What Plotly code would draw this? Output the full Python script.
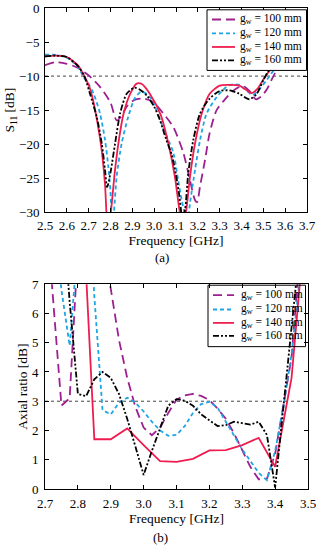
import plotly.graph_objects as go

# ---------------- DATA ----------------
LEGEND_LABELS = ["g<sub>w</sub> = 100 mm", "g<sub>w</sub> = 120 mm",
                 "g<sub>w</sub> = 140 mm", "g<sub>w</sub> = 160 mm"]

# (a) S11 [dB]
s11_f100 = [2.5, 2.55, 2.6, 2.645, 2.7, 2.75, 2.8, 2.828, 2.85, 2.874, 2.91, 2.95, 2.995, 3.042,
            3.088, 3.134, 3.164, 3.187, 3.197, 3.21, 3.233, 3.254, 3.286, 3.33, 3.36, 3.39, 3.41,
            3.44, 3.465, 3.49, 3.515, 3.553, 3.6, 3.65, 3.7]
s11_v100 = [-8.4, -7.95, -8.2, -8.7, -9.9, -11.5, -13.9, -16.5, -15.9, -14.5, -13.5, -13.3, -13.8,
            -15.5, -17.5, -21.3, -25.3, -28.2, -28.5, -26.2, -22.3, -18.4, -15.0, -13.2, -12.2,
            -11.6, -11.5, -12.3, -13.4, -13.0, -12.0, -9.6, -7.5, -6.5, -5.7]

s11_f120 = [2.5, 2.55, 2.6, 2.65, 2.676, 2.7, 2.723, 2.752, 2.775, 2.79, 2.8, 2.808, 2.816, 2.828,
            2.851, 2.881, 2.912, 2.94, 2.965, 2.99, 3.04, 3.088, 3.11, 3.126, 3.14, 3.152, 3.164,
            3.187, 3.21, 3.24, 3.286, 3.33, 3.36, 3.39, 3.42, 3.45, 3.48, 3.515, 3.553, 3.6, 3.65, 3.7]
s11_v120 = [-6.85, -6.9, -7.3, -8.6, -10.1, -11.2, -12.6, -15.5, -19.4, -23.3, -27.0, -33.0, -30.0,
            -24.8, -19.9, -16.0, -13.2, -12.3, -12.6, -13.5, -17.5, -21.3, -25.3, -28.2, -30.2,
            -32.0, -28.7, -23.8, -19.4, -15.5, -13.1, -11.6, -11.2, -11.3, -12.0, -12.8, -12.0,
            -10.6, -8.9, -7.2, -6.3, -5.5]

s11_f140 = [2.5, 2.55, 2.6, 2.65, 2.68, 2.7, 2.72, 2.74, 2.76, 2.775, 2.788, 2.8, 2.82, 2.836,
            2.86, 2.89, 2.92, 2.945, 2.98, 3.03, 3.065, 3.095, 3.115, 3.13, 3.146, 3.164, 3.187,
            3.218, 3.254, 3.3, 3.35, 3.39, 3.42, 3.447, 3.475, 3.5, 3.53, 3.56, 3.62, 3.7]
s11_v140 = [-7.1, -7.0, -7.2, -8.4, -10.0, -11.3, -13.5, -16.8, -21.0, -26.0, -33.0, -30.5, -24.0,
            -19.9, -15.5, -12.6, -11.1, -11.2, -12.6, -15.7, -19.9, -24.8, -29.5, -32.0, -29.9,
            -24.8, -19.9, -15.5, -12.6, -11.4, -11.3, -11.4, -12.0, -12.5, -11.8, -10.5, -9.15,
            -8.2, -6.8, -5.5]

s11_f160 = [2.5, 2.55, 2.6, 2.65, 2.68, 2.706, 2.737, 2.76, 2.775, 2.784, 2.79, 2.802, 2.821, 2.844,
            2.874, 2.91, 2.94, 2.97, 3.0, 3.027, 3.055, 3.08, 3.1, 3.115, 3.13, 3.142, 3.156, 3.179,
            3.21, 3.254, 3.3, 3.346, 3.39, 3.436, 3.47, 3.5, 3.53, 3.6, 3.7]
s11_v160 = [-7.1, -7.0, -7.2, -8.5, -10.0, -12.6, -16.0, -19.9, -23.8, -26.3, -25.8, -23.8, -19.9,
            -15.5, -12.6, -11.7, -12.1, -13.0, -14.5, -16.5, -19.3, -21.5, -24.5, -27.5, -31.0,
            -29.5, -24.3, -19.4, -15.5, -13.3, -12.2, -12.1, -12.6, -13.4, -12.6, -10.6, -8.9,
            -6.8, -5.5]

# (b) Axial ratio [dB]
ar_f = [2.7, 2.725, 2.75, 2.775, 2.8, 2.825, 2.85, 2.875, 2.9, 2.925, 2.95, 2.975, 3.0, 3.025,
        3.05, 3.075, 3.1, 3.125, 3.15, 3.175, 3.2, 3.225, 3.25, 3.275, 3.3, 3.325, 3.35, 3.375,
        3.4, 3.425, 3.45, 3.475, 3.5]
ar_v100 = [10, 6.3, 2.85, 3.1, 8.2, 11, 10, 8.4, 6.85, 5.1, 3.8, 2.8, 2.1, 1.84, 2.1, 2.6, 3.05,
           3.2, 3.25, 3.18, 3.04, 2.75, 2.4, 1.9, 1.35, 0.75, 0.33, 0.35, 1.2, 2.9, 4.5, 8.0, 11]
ar_v120 = [12, 9.5, 6.8, 4.9, 9.0, 12, 6.6, 2.7, 2.55, 2.95, 3.12, 2.95, 2.65, 2.3, 2.0, 1.82,
           1.85, 2.15, 2.6, 2.9, 2.98, 2.78, 2.3, 1.8, 1.35, 0.95, 0.55, 0.3, 1.3, 2.8, 4.6, 7.2, 10]
ar_v160 = [16, 13, 10.2, 6.4, 3.25, 3.17, 3.75, 4.0, 3.8, 3.25, 2.4, 1.45, 0.48, 1.3, 2.1, 2.85,
           3.07, 3.02, 2.85, 2.55, 2.35, 2.15, 2.18, 2.3, 2.25, 2.2, 2.3, 1.85, 0.05, 2.75, 5.4,
           8.2, 11]
ar_f140 = [2.7, 2.75, 2.8, 2.85, 2.9, 2.95, 3.0, 3.05, 3.1, 3.15, 3.2, 3.25, 3.3, 3.35, 3.4,
           3.45, 3.5]
ar_v140 = [20, 16, 13, 1.7, 1.7, 2.07, 1.5, 0.95, 0.93, 1.03, 1.32, 1.33, 1.5, 1.75, 0.76, 3.8,
           10.2]

S11_TICKS = [0, -5, -10, -15, -20, -25, -30]
AR_TICKS = [0, 1, 2, 3, 4, 5, 6, 7]

# ---------------- STYLE ----------------
COLORS = ["#9E1F90", "#1EA6E4", "#EF1D4F", "#000000"]
DASHES = ["9px,5px", "4px,3px", "solid", "6px,2px,2px,2px,2px,2px"]
LW = 1.8
FONT = "Liberation Serif"

W, H = 323, 550
ML, MR, MT, MB = 45, 15, 7.5, 61


def px(xp):
    return (xp - ML) / (W - ML - MR)


def py(yp):
    return (H - MB - yp) / (H - MT - MB)


fig = go.Figure()

top_sets = [(s11_f100, s11_v100), (s11_f120, s11_v120), (s11_f140, s11_v140), (s11_f160, s11_v160)]
for i, (f, v) in enumerate(top_sets):
    fig.add_trace(go.Scatter(x=f, y=v, mode="lines", name=LEGEND_LABELS[i], showlegend=False,
                             line=dict(color=COLORS[i], width=LW, dash=DASHES[i],
                                       shape="spline", smoothing=0.7),
                             xaxis="x", yaxis="y"))

bot_sets = [(ar_f, ar_v100), (ar_f, ar_v120), (ar_f140, ar_v140), (ar_f, ar_v160)]
for i, (f, v) in enumerate(bot_sets):
    fig.add_trace(go.Scatter(x=f, y=v, mode="lines", name=LEGEND_LABELS[i], showlegend=False,
                             line=dict(color=COLORS[i], width=LW, dash=DASHES[i]),
                             xaxis="x2", yaxis="y2"))

axis_common = dict(showline=True, linecolor="black", linewidth=1, mirror="ticks",
                   ticks="inside", ticklen=4, tickcolor="black", showgrid=False,
                   zeroline=False, automargin=False,
                   tickfont=dict(family=FONT, size=13, color="black"))

fig.update_layout(
    width=W, height=H, margin=dict(l=ML, r=MR, t=MT, b=MB, autoexpand=False),
    paper_bgcolor="white", plot_bgcolor="white", showlegend=False,
    font=dict(family=FONT, color="black"),
    xaxis=dict(domain=[0, px(307)], anchor="y", range=[2.5, 3.7], tick0=2.5, dtick=0.1,
               tickformat=".1f", ticklabelstandoff=1,
               title=dict(text="Frequency [GHz]", font=dict(family=FONT, size=13.5), standoff=1),
               **axis_common),
    yaxis=dict(domain=[py(212), 1], anchor="x", range=[-30, 0], tickvals=S11_TICKS,
               ticklabelstandoff=2,
               title=dict(text="S<sub>11</sub> [dB]", font=dict(family=FONT, size=13.5), standoff=1),
               **axis_common),
    xaxis2=dict(domain=[0, 1], anchor="y2", range=[2.7, 3.5], tick0=2.7, dtick=0.1,
                tickformat=".1f", ticklabelstandoff=2,
                title=dict(text="Frequency [GHz]", font=dict(family=FONT, size=13.5), standoff=1),
                **axis_common),
    yaxis2=dict(domain=[0, py(284)], anchor="x2", range=[0, 7], tickvals=AR_TICKS,
                ticklabelstandoff=3,
                title=dict(text="Axial ratio [dB]", font=dict(family=FONT, size=13.5), standoff=1),
                **axis_common),
)

# dotted reference lines
fig.add_shape(type="line", xref="x domain", yref="y", x0=0, x1=1, y0=-10, y1=-10,
              line=dict(color="#444", width=1, dash="dot"), layer="below")
fig.add_shape(type="line", xref="x2 domain", yref="y2", x0=0, x1=1, y0=3, y1=3,
              line=dict(color="#444", width=1, dash="dot"), layer="below")


# manual legends
def add_legend(box, rows, line_x, text_x, filled):
    x0, y0, x1, y1 = box
    fig.add_shape(type="rect", xref="paper", yref="paper",
                  x0=px(x0), x1=px(x1), y0=py(y1), y1=py(y0),
                  line=dict(color="black", width=1),
                  fillcolor="white" if filled else "rgba(0,0,0,0)", layer="above")
    for i, yr in enumerate(rows):
        fig.add_shape(type="line", xref="paper", yref="paper",
                      x0=px(line_x[0]), x1=px(line_x[1]), y0=py(yr), y1=py(yr),
                      line=dict(color=COLORS[i], width=LW, dash=DASHES[i]), layer="above")
        fig.add_annotation(xref="paper", yref="paper", x=px(text_x), y=py(yr),
                           text=LEGEND_LABELS[i], showarrow=False, xanchor="left",
                           yanchor="middle", font=dict(family=FONT, size=11.5, color="black"))


add_legend((207, 9.3, 306.5, 70), [19, 33, 46.5, 60], (212, 235), 238, True)
add_legend((208, 285, 305.5, 346.5), [295, 309.3, 322.7, 335.7], (213, 234), 239, False)

# captions
fig.add_annotation(xref="paper", yref="paper", x=px(162), y=py(257), text="(a)", showarrow=False,
                   xanchor="center", yanchor="middle",
                   font=dict(family=FONT, size=13, color="black"))
fig.add_annotation(xref="paper", yref="paper", x=px(160), y=py(538), text="(b)", showarrow=False,
                   xanchor="center", yanchor="middle",
                   font=dict(family=FONT, size=13, color="black"))

fig.write_html("out.html", config={"displayModeBar": False},
               post_script="document.body.style.margin='0';document.body.style.padding='0';")
